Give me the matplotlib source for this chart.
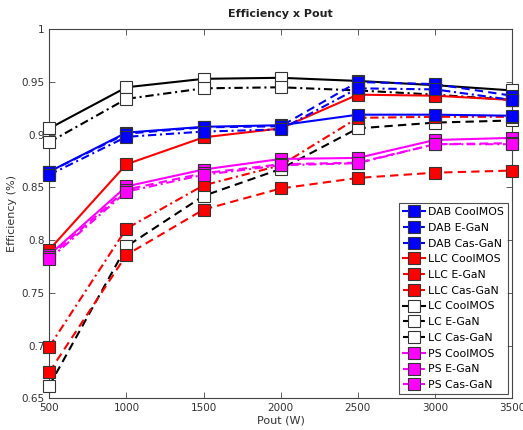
import matplotlib
matplotlib.use("Agg")
import matplotlib.pyplot as plt

pout = [500, 1000, 1500, 2000, 2500, 3000, 3500]

dab_coolmos = [0.865, 0.902, 0.9075, 0.909, 0.919, 0.919, 0.918]
dab_egan    = [0.865, 0.901, 0.907, 0.908, 0.950, 0.948, 0.937]
dab_casgan  = [0.862, 0.898, 0.903, 0.905, 0.944, 0.943, 0.933]

llc_coolmos = [0.791, 0.872, 0.8975, 0.906, 0.938, 0.937, 0.933]
llc_egan    = [0.675, 0.786, 0.829, 0.849, 0.859, 0.864, 0.866]
llc_casgan  = [0.699, 0.811, 0.852, 0.871, 0.916, 0.917, 0.917]

lc_coolmos = [0.906, 0.945, 0.953, 0.954, 0.951, 0.947, 0.942]
lc_egan    = [0.662, 0.794, 0.842, 0.8675, 0.906, 0.9115, 0.9135]
lc_casgan  = [0.893, 0.934, 0.944, 0.945, 0.942, 0.938, 0.933]

ps_coolmos = [0.786, 0.851, 0.867, 0.877, 0.878, 0.895, 0.897]
ps_egan    = [0.784, 0.848, 0.8635, 0.872, 0.8735, 0.891, 0.892]
ps_casgan  = [0.782, 0.846, 0.862, 0.871, 0.873, 0.891, 0.891]

y_ticks = [0.65, 0.7, 0.75, 0.8, 0.85, 0.9, 0.95, 1]
y_tick_labels = ["0.65", "0.7", "0.75", "0.8", "0.85", "0.9", "0.95", "1"]

series = [
    ("DAB CoolMOS", dab_coolmos, "blue", "blue", "solid", 3),
    ("DAB E-GaN", dab_egan, "blue", "blue", "dashed", 3),
    ("DAB Cas-GaN", dab_casgan, "blue", "blue", "dashdot", 3),
    ("LLC CoolMOS", llc_coolmos, "red", "red", "solid", 2),
    ("LLC E-GaN", llc_egan, "red", "red", "dashed", 2),
    ("LLC Cas-GaN", llc_casgan, "red", "red", "dashdot", 2),
    ("LC CoolMOS", lc_coolmos, "black", "white", "solid", 1),
    ("LC E-GaN", lc_egan, "black", "white", "dashed", 1),
    ("LC Cas-GaN", lc_casgan, "black", "white", "dashdot", 1),
    ("PS CoolMOS", ps_coolmos, "magenta", "magenta", "solid", 4),
    ("PS E-GaN", ps_egan, "magenta", "magenta", "dashed", 4),
    ("PS Cas-GaN", ps_casgan, "magenta", "magenta", "dashdot", 4),
]

dash_map = {"solid": "-", "dashed": (0, (4, 2.5)), "dashdot": (0, (4, 1.8, 1, 1.8))}

fig = plt.figure(figsize=(5.23, 4.30), dpi=100)
ax = fig.add_axes([0.0943, 0.0737, 0.8847, 0.8582])

for name, vals, lc, fc, ls, z in series:
    ax.plot(pout, vals, color=lc, linestyle=dash_map[ls], linewidth=1.5,
            marker="s", markersize=9.3, markerfacecolor=fc,
            markeredgecolor="#333333", markeredgewidth=0.8,
            label=name, zorder=z + 2, clip_on=False)

ax.set_xlim(500, 3500)
ax.set_ylim(0.65, 1.0)
ax.set_xticks(pout)
ax.set_yticks(y_ticks)
ax.set_yticklabels(y_tick_labels)

gray = "#444444"
for sp in ax.spines.values():
    sp.set_color(gray)
    sp.set_linewidth(0.8)
ax.tick_params(direction="in", top=True, right=True, length=4, width=0.6,
               colors=gray, labelsize=7.5, labelcolor="#333333")

ax.set_title("Efficiency x Pout", fontsize=8, fontweight="bold", color="#222222", pad=9)
ax.set_xlabel("Pout (W)", fontsize=8, color="#333333", labelpad=2)
ax.set_ylabel("Efficiency (%)", fontsize=8, color="#333333", labelpad=3)

leg = ax.legend(loc="lower right", bbox_to_anchor=(0.991, 0.0117), borderaxespad=0,
                fontsize=7.8, frameon=True, fancybox=False, handlelength=2.0,
                handletextpad=0.3, labelspacing=0.53, borderpad=0.35)
leg.get_frame().set_edgecolor("#222222")
leg.get_frame().set_linewidth(0.8)
leg.set_zorder(20)

fig.savefig("out.png", dpi=100)
